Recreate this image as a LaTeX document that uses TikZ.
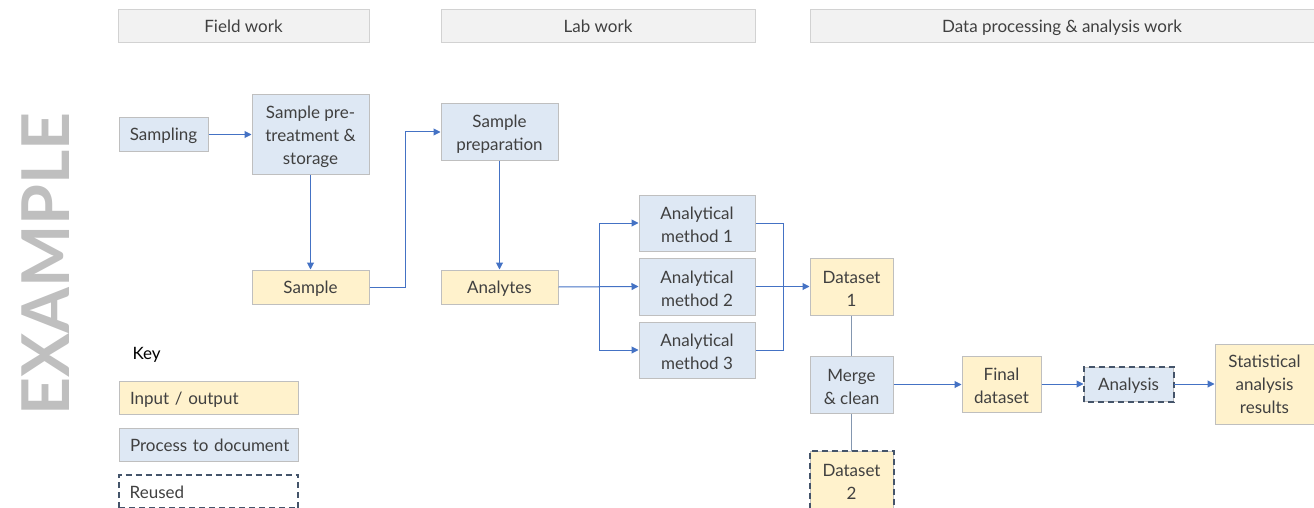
\documentclass[tikz,border=0pt]{standalone}
\usepackage{fontspec}
\setmainfont{Lato}
\usetikzlibrary{arrows.meta}
\definecolor{bluefill}{HTML}{DEE8F4}
\definecolor{yelfill}{HTML}{FFF2CC}
\definecolor{boxline}{HTML}{BFBFBF}
\definecolor{hdrfill}{HTML}{F2F2F2}
\definecolor{arrowc}{HTML}{4472C4}
\definecolor{dashc}{HTML}{44546A}
\definecolor{txt}{HTML}{404040}
\definecolor{linkc}{HTML}{8497B0}
\newcommand{\hstrut}{\rule[-7pt]{0pt}{27pt}}
\newcommand{\tstrut}{\rule{0pt}{17pt}}
\tikzset{
  every node/.style={font=\fontsize{17}{23}\selectfont, text=txt},
  boxbase/.style={draw=boxline, line width=1pt, align=center, inner sep=0pt},
  hdr/.style={boxbase, fill=hdrfill, draw=boxline!70},
  proc/.style={boxbase, fill=bluefill},
  io/.style={boxbase, fill=yelfill},
  reused/.style={draw=dashc, line width=2pt, dash pattern=on 6pt off 4pt},
  conn/.style={draw=arrowc, line width=1pt, -{Triangle[length=7pt,width=7pt]}},
  plain/.style={draw=arrowc, line width=1pt},
  link/.style={draw=linkc, line width=1.2pt},
  keybox/.style={anchor=west, minimum width=179pt, minimum height=33pt, text width=168pt, align=left, inner sep=0pt},
}
\newcommand{\bx}[6]{\node[#1, minimum width=#4pt-#2pt, minimum height=#5pt-#3pt] (#6) at ({(#2+#4)/2},{(#3+#5)/2})}
\begin{document}
\begin{tikzpicture}[x=1pt,y=-1pt]
\useasboundingbox (0,0) rectangle (1314,508);
% headers
\bx{hdr}{118}{10}{369}{43}{h1} {\hstrut Field work};
\bx{hdr}{441}{10}{755}{43}{h2} {\hstrut Lab work};
\bx{hdr}{810}{10}{1314}{43}{h3} {\hstrut Data processing \& analysis work};
% watermark
\node[rotate=90, text=black!25, font=\fontsize{66}{66}\selectfont\bfseries] (ex) at (46,264) {EXAMPLE};
% nodes
\bx{proc}{119}{118}{208}{151}{samp} {\hstrut Sampling};
\bx{proc}{252}{95}{369}{174}{pre} {\tstrut Sample pre-\\treatment \&\\storage};
\bx{io}{252}{270}{369}{304}{sample} {\hstrut Sample};
\bx{proc}{441}{104}{558}{160}{prep} {\tstrut Sample\\preparation};
\bx{io}{441}{270}{558}{304}{anal} {\hstrut Analytes};
\bx{proc}{639}{195}{755}{251}{m1} {\tstrut Analytical\\method 1};
\bx{proc}{639}{258}{755}{315}{m2} {\tstrut Analytical\\method 2};
\bx{proc}{639}{322}{755}{378}{m3} {\tstrut Analytical\\method 3};
\bx{io}{810}{258}{893}{315}{d1} {\tstrut Dataset\\1};
\bx{proc}{810}{356}{893}{413}{merge} {\tstrut Merge\\\& clean};
\bx{io}{810}{451}{893}{508}{d2} {\tstrut Dataset\\2};
\draw[reused] (d2.south west) rectangle (d2.north east);
\bx{io}{962}{356}{1041}{412}{final} {\tstrut Final\\dataset};
\bx{proc}{1084}{367}{1173}{401}{analysis} {\hstrut Analysis};
\draw[reused] (analysis.south west) rectangle (analysis.north east);
\bx{io}{1215}{344}{1314}{424}{stats} {Statistical\\analysis\\results};
% key
\node[text=black, anchor=west] (key) at (129,355) {Key};
\node[io, keybox] (kio) at (119,397.5) {\hspace*{5pt}\hstrut Input / output};
\node[proc, keybox] (kproc) at (119,444.5) {\hspace*{5pt}\hstrut Process to document};
\node[keybox] (kreu) at (119,491.5) {\hspace*{5pt}\hstrut Reused};
\draw[reused] (kreu.south west) rectangle (kreu.north east);
% connectors
\draw[conn] (samp.east) -- (samp.east -| pre.west);
\draw[conn] (pre.south) -- (sample.north);
\draw[conn] (sample.east) -- (405,287) |- (prep.west);
\draw[conn] (prep.south) -- (anal.north);
\draw[conn] (anal.east) -- (m2.west);
\coordinate (br) at (599,287);
\draw[conn] (br) |- (m1.west);
\draw[conn] (br) |- (m3.west);
\coordinate (jn) at (783,287);
\draw[plain] (m1.east) -| (jn);
\draw[plain] (m3.east) -| (jn);
\draw[conn] (m2.east) -- (d1.west);
\draw[link] (d1.south) -- (merge.north);
\draw[link] (merge.south) -- (d2.north);
\draw[conn] (merge.east) -- (merge.east -| final.west);
\draw[conn] (final.east) -- (final.east -| analysis.west);
\draw[conn] (analysis.east) -- (analysis.east -| stats.west);
\end{tikzpicture}
\end{document}
